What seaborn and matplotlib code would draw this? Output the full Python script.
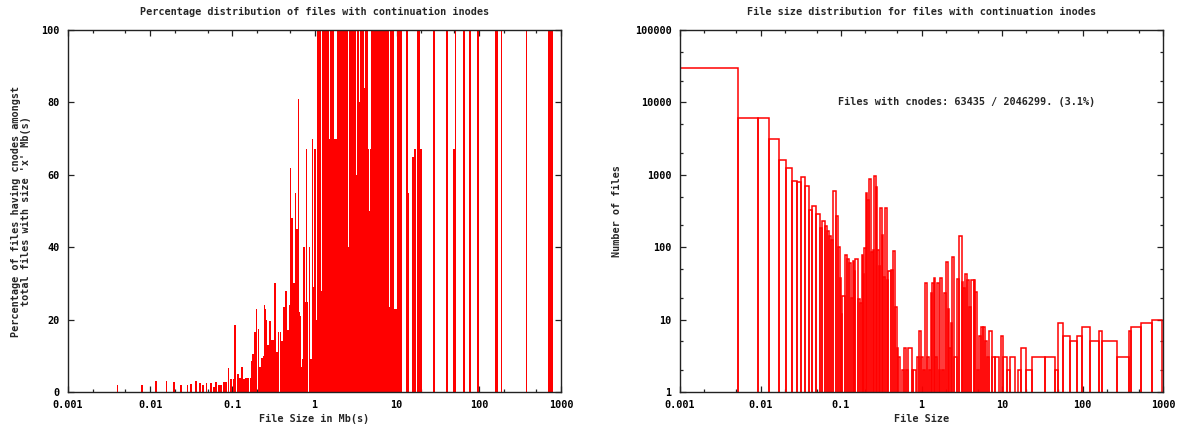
import numpy as np
import matplotlib
matplotlib.use("Agg")
import matplotlib.pyplot as plt
from matplotlib.ticker import LogLocator, FixedLocator, NullFormatter, FixedFormatter
import seaborn as sns

# left panel: % of files having cnodes among all files of size x (Mb)
pct_sizes_mb = [
    0.0040, 0.0079, 0.0118, 0.0158, 0.0195, 0.0237, 0.0284, 0.0313, 0.0361, 0.0401,
    0.0436, 0.0486, 0.0549, 0.0597, 0.0631, 0.0687, 0.0726, 0.0790, 0.0831, 0.0897,
    0.0962, 0.1031, 0.1076, 0.117, 0.1237, 0.1309, 0.1384, 0.1452, 0.1549, 0.167,
    0.172, 0.1795, 0.190, 0.196, 0.209, 0.218, 0.228, 0.238, 0.242, 0.251,
    0.261, 0.270, 0.285, 0.301, 0.313, 0.334, 0.349, 0.365, 0.385, 0.406,
    0.428, 0.448, 0.472, 0.498, 0.509, 0.531, 0.561, 0.586, 0.611, 0.637,
    0.655, 0.674, 0.693, 0.719, 0.749, 0.775, 0.797, 0.824, 0.867, 0.904,
    0.935, 0.951, 0.983, 1.011, 1.061, 1.100, 1.138, 1.173, 1.210, 1.251,
    1.294, 1.338, 1.396, 1.455, 1.510, 1.570, 1.628, 1.689, 1.771, 1.857,
    1.926, 1.992, 2.060, 2.131, 2.204, 2.279, 2.357, 2.437, 2.520, 2.621,
    2.711, 2.803, 2.899, 2.998, 3.101, 3.216, 3.326, 3.439, 3.557, 3.678,
    3.804, 3.934, 4.069, 4.208, 4.351, 4.500, 4.654, 4.813, 4.978, 5.148,
    5.324, 5.506, 5.694, 5.889, 6.090, 6.299, 6.514, 6.737, 6.967, 7.205,
    7.452, 7.707, 7.970, 8.243, 8.525, 8.816, 9.118, 9.430, 9.779, 10.43,
    10.78, 11.41, 13.2, 13.53, 13.69, 15.88, 16.65, 18.26, 19.05, 19.70,
    28.67, 41.4, 50.06, 52.06, 65.7, 78.4, 98.3, 159.7, 167.0, 188.9,
    380.4, 710.5, 751.4, 788.1,
]
pct_with_cnodes = [
    2, 2, 3, 3, 2.8, 2, 2, 2.2, 3, 2.5,
    2, 2.5, 2.5, 1.5, 2.7, 2, 2, 2.8, 2.7, 6.5,
    3.5, 3.5, 18.5, 5, 4, 7, 3.5, 4, 4, 4,
    8.5, 10.5, 16.5, 23, 17.5, 7, 9.5, 10, 24, 23,
    20, 13, 19.5, 14.5, 14.5, 30, 11, 16.5, 16.5, 14,
    23.5, 28, 17, 24, 62, 48, 30, 55, 45, 81,
    22, 21, 7, 9, 40, 25, 67, 25, 40, 9,
    100, 70, 29, 67, 20, 100, 100, 100, 28, 100,
    100, 100, 100, 100, 70, 100, 100, 100, 70, 70,
    100, 100, 100, 100, 100, 100, 100, 100, 100, 40,
    100, 100, 100, 100, 100, 60, 100, 100, 80, 100,
    100, 100, 84, 100, 100, 67, 50, 67, 100, 100,
    100, 100, 100, 100, 100, 100, 100, 100, 100, 100,
    100, 100, 100, 23.5, 100, 100, 100, 23, 23, 100,
    100, 100, 100, 100, 55, 65, 67, 100, 100, 67,
    100, 100, 67, 100, 100, 100, 100, 100, 100, 100,
    100, 100, 100, 100,
]

# right panel: histogram of files with cnodes by file size
count_bin_edges = [
    0.001, 0.0052, 0.0092, 0.0129, 0.0168, 0.0206, 0.0244, 0.0282, 0.0316, 0.0354,
    0.0397, 0.0433, 0.0493, 0.0548, 0.0581, 0.0632, 0.0676, 0.0716, 0.0759, 0.0802,
    0.0859, 0.091, 0.0964, 0.1, 0.1038, 0.1122, 0.1197, 0.1268, 0.1318, 0.1396,
    0.145, 0.1506, 0.1612, 0.1722, 0.1807, 0.1892, 0.1947, 0.2044, 0.2122, 0.2228,
    0.2339, 0.2518, 0.2594, 0.2722, 0.2825, 0.2938, 0.305, 0.326, 0.3354, 0.3521,
    0.3696, 0.3869, 0.4145, 0.4465, 0.4687, 0.492, 0.506, 0.541, 0.577, 0.611,
    0.636, 0.6855, 0.755, 0.791, 0.847, 0.887, 0.939, 0.977, 1.053, 1.115,
    1.160, 1.239, 1.301, 1.350, 1.418, 1.484, 1.558, 1.636, 1.697, 1.797,
    1.904, 2.015, 2.116, 2.215, 2.305, 2.393, 2.533, 2.784, 2.949, 3.158,
    3.306, 3.501, 3.707, 3.925, 4.12, 4.45, 4.66, 4.934, 5.18, 5.485,
    5.757, 6.15, 6.457, 6.955, 7.45, 8.185, 9.18, 9.72, 10.38, 11.44,
    12.57, 14.51, 15.94, 17.07, 19.7, 23.38, 34.2, 45.54, 50.06, 57.73,
    69.95, 86.17, 98.6, 124, 161.7, 174.7, 266, 378, 397, 528,
    724, 964,
]
cnode_file_counts = [
    29600, 6150, 6150, 3090, 1600, 1230, 830, 790, 920, 710,
    326, 371, 285, 182, 232, 198, 169, 143, 126, 597,
    270, 100, 38, 12, 21, 78, 68, 60, 20, 65,
    47, 68, 19, 17, 78, 43, 97, 555, 450, 865,
    86, 91, 960, 685, 91, 55, 345, 147, 39, 345,
    35, 47, 48, 89, 15, 4, 3, 0, 2, 4,
    2, 4, 2, 2, 0, 3, 7, 3, 2, 32,
    3, 2, 23, 32, 37, 3, 32, 2, 37, 2,
    23, 63, 14, 4, 9, 74, 3, 36, 142, 33,
    27, 43, 35, 15, 35, 35, 24, 2, 6, 8,
    8, 5, 3, 7, 3, 3, 0, 6, 3, 2,
    3, 0, 2, 4, 2, 3, 3, 2, 9, 6,
    5, 6, 8, 5, 7, 5, 3, 7, 8, 9,
    10,
]
cnode_files = 63435
all_files = 2046299

x_ticks = [0.001, 0.01, 0.1, 1, 10, 100, 1000]
x_tick_labels = ["0.001", "0.01", "0.1", "1", "10", "100", "1000"]
pct_ticks = [0, 20, 40, 60, 80, 100]
count_ticks = [1, 10, 100, 1000, 10000, 100000]
count_tick_labels = ["1", "10", "100", "1000", "10000", "100000"]

W, H = 1191, 432
FONT = ["DejaVu Sans Mono"]
TXT = dict(fontsize=7.3, fontweight="bold")


def thin_bar_edges(sizes, half=0.011):
    # narrow bars in log space, clipped so neighbours never overlap
    lx = np.log10(sizes)
    lo, hi = lx - half, lx + half
    mid = (lx[1:] + lx[:-1]) / 2
    lo[1:] = np.maximum(lo[1:], mid)
    hi[:-1] = np.minimum(hi[:-1], mid)
    return list(np.unique(10 ** np.concatenate([lo, hi])))


def style_axis(ax):
    for s in ax.spines.values():
        s.set_color("#222222")
        s.set_linewidth(1.0)
    ax.tick_params(which="both", direction="in", top=True, right=True,
                   width=0.9, colors="#222222", labelcolor="black",
                   labelsize=7.3, pad=6)
    ax.tick_params(which="major", length=4)
    ax.tick_params(which="minor", length=2.5)
    for lab in ax.get_xticklabels() + ax.get_yticklabels():
        lab.set_fontweight("bold")


def log_x(ax):
    ax.set_xscale("log")
    ax.set_xlim(0.001, 1000)
    ax.xaxis.set_major_locator(FixedLocator(x_ticks))
    ax.xaxis.set_major_formatter(FixedFormatter(x_tick_labels))
    ax.xaxis.set_minor_locator(LogLocator(base=10, subs=(2, 5), numticks=10))
    ax.xaxis.set_minor_formatter(NullFormatter())


sns.set_style("ticks")
plt.rcParams["font.family"] = FONT
plt.rcParams["font.weight"] = "bold"

fig = plt.figure(figsize=(W / 100, H / 100), dpi=100)
ax1 = fig.add_axes([68 / W, 40 / H, 493 / W, 362 / H])
ax2 = fig.add_axes([680 / W, 40 / H, 483 / W, 362 / H])

# ---- left: percentage bars
order = np.argsort(pct_sizes_mb)
sizes = np.asarray(pct_sizes_mb, dtype=float)[order]
pcts = np.asarray(pct_with_cnodes, dtype=float)[order]
sns.histplot(x=sizes, weights=pcts, bins=thin_bar_edges(sizes), stat="count",
             element="bars", fill=True, color="red", alpha=1.0,
             linewidth=0, edgecolor="none", ax=ax1)
log_x(ax1)
ax1.set_ylim(0, 100)
ax1.yaxis.set_major_locator(FixedLocator(pct_ticks))
style_axis(ax1)
ax1.set_ylabel("Percentage of files having cnodes amongst\ntotal files with size 'x' Mb(s)",
               ha="center", va="center", linespacing=1.0, **TXT)
ax1.yaxis.set_label_coords(-47 / 493, 0.5)
ax1.set_xlabel("File Size in Mb(s)", va="center", **TXT)
ax1.xaxis.set_label_coords(0.5, -27 / 362)
ax1.text(0.5, 1 + 18 / 362, "Percentage distribution of files with continuation inodes",
         transform=ax1.transAxes, ha="center", va="center", **TXT)

# ---- right: count histogram (outlined boxes)
edges = np.asarray(count_bin_edges, dtype=float)
centers = np.sqrt(edges[:-1] * edges[1:])
sns.histplot(x=centers, weights=cnode_file_counts, bins=list(count_bin_edges),
             stat="count", element="bars", fill=False, color="red",
             linewidth=1.1, ax=ax2)
log_x(ax2)
ax2.set_yscale("log")
ax2.set_ylim(1, 100000)
ax2.yaxis.set_major_locator(FixedLocator(count_ticks))
ax2.yaxis.set_major_formatter(FixedFormatter(count_tick_labels))
ax2.yaxis.set_minor_locator(LogLocator(base=10, subs=(2, 5), numticks=10))
ax2.yaxis.set_minor_formatter(NullFormatter())
style_axis(ax2)
ax2.set_ylabel("Number of files", ha="center", va="center", **TXT)
ax2.yaxis.set_label_coords(-63 / 483, 0.5)
ax2.set_xlabel("File Size", va="center", **TXT)
ax2.xaxis.set_label_coords(0.5, -27 / 362)
ax2.text(0.5, 1 + 18 / 362, "File size distribution for files with continuation inodes",
         transform=ax2.transAxes, ha="center", va="center", **TXT)
ax2.text(0.092, 10000,
         f"Files with cnodes: {cnode_files} / {all_files}. ({100 * cnode_files / all_files:.1f}%)",
         ha="left", va="center", **TXT)

fig.savefig("out.png", dpi=100, facecolor="white")
